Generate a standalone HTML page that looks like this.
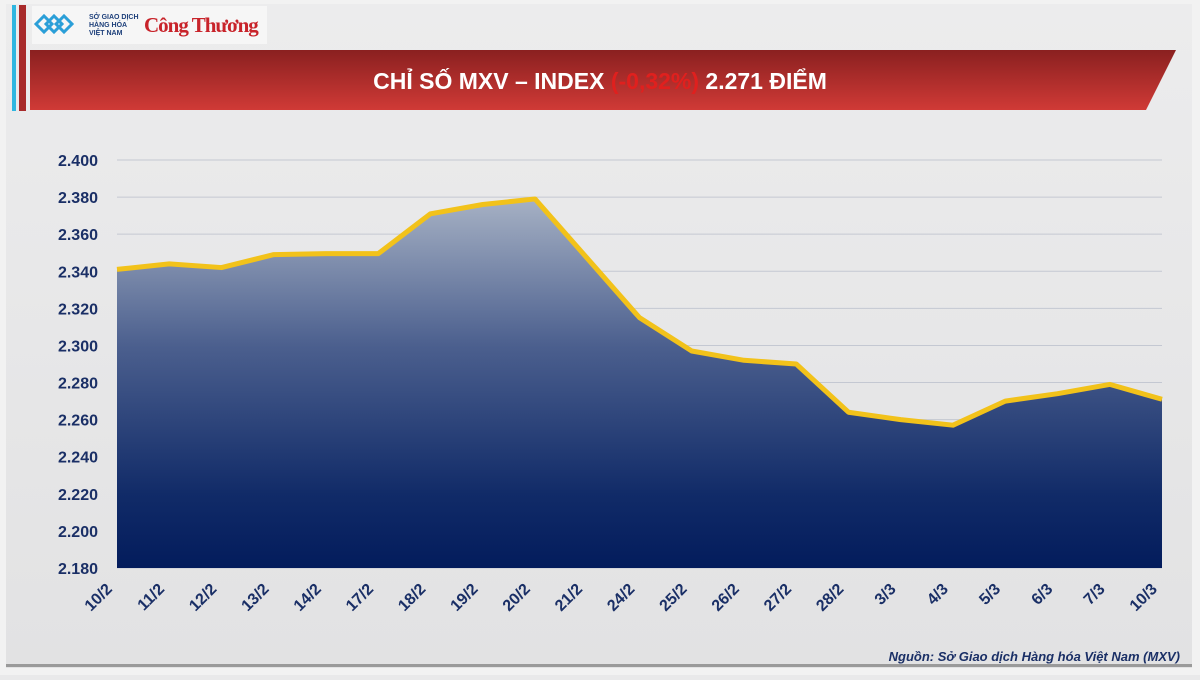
<!DOCTYPE html>
<html><head><meta charset="utf-8"><style>
body{margin:0;width:1200px;height:675px;overflow:hidden;background:#e9e9ea;font-family:"Liberation Sans",sans-serif}
</style></head><body>
<svg id="s" width="1200" height="675" xmlns="http://www.w3.org/2000/svg">
<defs>
<linearGradient id="bg" x1="0" y1="0" x2="0" y2="1"><stop offset="0" stop-color="#ececed"/><stop offset="1" stop-color="#e2e2e3"/></linearGradient>
<linearGradient id="fill" x1="0" y1="0" x2="0" y2="1"><stop offset="0" stop-color="#a6b1c4"/><stop offset="0.4" stop-color="#4b5f8e"/><stop offset="0.8" stop-color="#112b68"/><stop offset="1" stop-color="#031c5c"/></linearGradient>
<linearGradient id="red" x1="0" y1="0" x2="0" y2="1"><stop offset="0" stop-color="#8a2020"/><stop offset="1" stop-color="#d03a36"/></linearGradient>
</defs>
<rect width="1200" height="675" fill="#f2f2f2"/>
<rect x="6" y="4" width="1186" height="664" fill="url(#bg)"/>
<rect x="6" y="664" width="1186" height="3" fill="#9a9a9a"/>
<rect x="12" y="5" width="4" height="106" fill="#2fb6e0"/>
<rect x="19" y="5" width="7" height="106" fill="#a82a2a"/>
<rect x="32" y="6" width="235" height="38" fill="#f6f6f6"/>
<g fill="none" stroke="#2b9fd8" stroke-width="3"><path d="M36 24 l8 -8 l8 8 l-8 8z M46 24 l8 -8 l8 8 l-8 8z M56 24 l8 -8 l8 8 l-8 8z"/></g>
<text x="89" y="19" font-size="7" fill="#1d3f7a" font-weight="bold">SỞ GIAO DỊCH</text>
<text x="89" y="27" font-size="7" fill="#1d3f7a" font-weight="bold">HÀNG HÓA</text>
<text x="89" y="35" font-size="7" fill="#1d3f7a" font-weight="bold">VIỆT NAM</text>
<text x="144" y="32" font-size="21" fill="#c8232a" font-family="Liberation Serif" font-weight="bold" letter-spacing="-1">Công Thương</text>
<polygon points="30,50 1176,50 1146,110 30,110" fill="url(#red)"/>
<text x="600" y="89" text-anchor="middle" font-size="23" font-weight="bold" fill="#fff">CHỈ SỐ MXV – INDEX <tspan fill="#e0201e">(-0,32%)</tspan> 2.271 ĐIỂM</text>
<g id="g"></g>
<text x="1180" y="661" text-anchor="end" font-size="13" font-style="italic" font-weight="bold" fill="#1a2f66">Nguồn: Sở Giao dịch Hàng hóa Việt Nam (MXV)</text>
</svg>
<script>
var v=[2341,2344,2342,2349,2349.5,2349.5,2371,2376,2379,2347,2315,2297,2292,2290,2264,2260,2257,2270,2274,2279,2271];
var L=["10/2","11/2","12/2","13/2","14/2","17/2","18/2","19/2","20/2","21/2","24/2","25/2","26/2","27/2","28/2","3/3","4/3","5/3","6/3","7/3","10/3"];
function Y(a){return 160+(2400-a)*408/220}
function X(i){return 117+i*52.25}
var h="";
for(var k=0;k<=11;k++){var val=2400-k*20,y=Y(val);
h+='<line x1="117" x2="1162" y1="'+y+'" y2="'+y+'" stroke="#c4c8d2" stroke-width="1"/>';
h+='<text x="98" y="'+(y+6)+'" text-anchor="end" font-size="16" font-weight="bold" fill="#1a2f66">'+val.toString().replace(/(\d)(\d{3})$/,"$1.$2")+'</text>';}
var p="M117 568 ";var ln="";
v.forEach(function(a,i){p+="L"+X(i)+" "+Y(a)+" ";ln+=(i?"L":"M")+X(i)+" "+Y(a)+" ";});
p+="L1162 568Z";
h+='<path d="'+p+'" fill="url(#fill)"/>';
h+='<path d="'+ln+'" fill="none" stroke="#f2c21a" stroke-width="5" stroke-linejoin="round"/>';
L.forEach(function(t,i){var x=X(i)-4,y=590;
h+='<text transform="translate('+x+','+y+') rotate(-45)" text-anchor="end" font-size="16" font-weight="bold" fill="#1a2f66">'+t+'</text>';});
document.getElementById("g").innerHTML=h;
</script>
</body></html>
